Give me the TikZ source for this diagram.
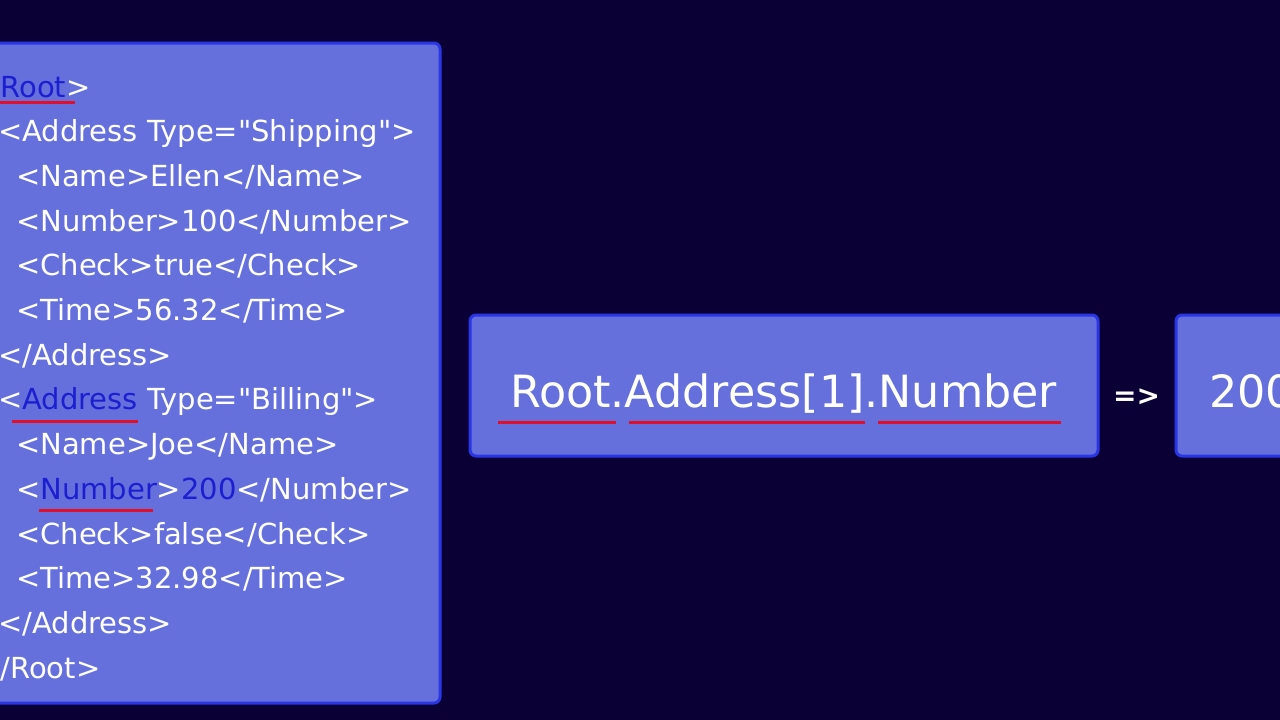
\documentclass[tikz,border=0pt]{standalone}
\usepackage{fontspec}
\newfontfamily\dejavu{DejaVu Sans}
\definecolor{bgnavy}{HTML}{0B0035}
\definecolor{panelfill}{HTML}{6670DD}
\definecolor{panelrim}{HTML}{2A36E6}
\definecolor{tagblue}{HTML}{1C1FD0}
\definecolor{markred}{HTML}{E0102A}
\newcommand{\hl}[1]{\textcolor{tagblue}{#1}}

\tikzset{
  panel/.style = {draw=panelrim, fill=panelfill, line width=3pt, rounded corners=6pt},
  xml/.style = {anchor=base west, inner sep=0pt, text=white,
                font=\dejavu\fontsize{29}{30}\selectfont},
  query/.style = {anchor=base west, inner sep=0pt, text=white,
                font=\dejavu\fontsize{44.4}{46}\selectfont},
  redline/.style = {draw=markred, line width=2.5pt}
}

\begin{document}
\begin{tikzpicture}[x=1pt, y=-1pt]
    \fill [bgnavy] (0,0) rectangle (1280,720);
    \useasboundingbox (0,0) rectangle (1280,720);

    % panels
    \draw [panel] (-20,43) rectangle (440,703);
    \draw [panel] (470,315) rectangle (1098,456);
    \draw [panel] (1176,315) rectangle (1300,456);

    % xml listing
    \node (rootopen)  [xml] at (-24,97.0)  {<\hl{Root}>};
    \node (shipopen)  [xml] at (-2,141.7)  {<Address Type="Shipping">};
    \node (shipname)  [xml] at (16,186.4)  {<Name>Ellen</Name>};
    \node (shipnum)   [xml] at (16,231.1)  {<Number>100</Number>};
    \node (shipcheck) [xml] at (16,275.8)  {<Check>true</Check>};
    \node (shiptime)  [xml] at (16,320.5)  {<Time>56.32</Time>};
    \node (shipclose) [xml] at (-2,365.2)  {</Address>};
    \node (billopen)  [xml] at (-2,409.9)  {<\hl{Address} Type="Billing">};
    \node (billname)  [xml] at (16,454.6)  {<Name>Joe</Name>};
    \node (billnum)   [xml] at (16,499.3)  {<\hl{Number}>\hl{200}</Number>};
    \node (billcheck) [xml] at (16,544.0)  {<Check>false</Check>};
    \node (billtime)  [xml] at (16,588.7)  {<Time>32.98</Time>};
    \node (billclose) [xml] at (-2,633.4)  {</Address>};
    \node (rootclose) [xml] at (-24,678.1) {</Root>};

    % path expression and result
    \node (path)   [query] at (510,407) {Root.Address[1].Number};
    \node (yields) [xml, font=\dejavu\bfseries\fontsize{28}{30}\selectfont] at (1113,405) {=>};
    \node (result) [query] at (1209,407) {200};

    % underlines
    \draw [redline] (0,102.5) -- (75,102.5);
    \draw [redline] (12,421.5) -- (138,421.5);
    \draw [redline] (39,510.5) -- (153,510.5);
    \draw [redline] (498,422.5) -- (616,422.5);
    \draw [redline] (629,422.5) -- (865,422.5);
    \draw [redline] (878,422.5) -- (1061,422.5);
\end{tikzpicture}
\end{document}
